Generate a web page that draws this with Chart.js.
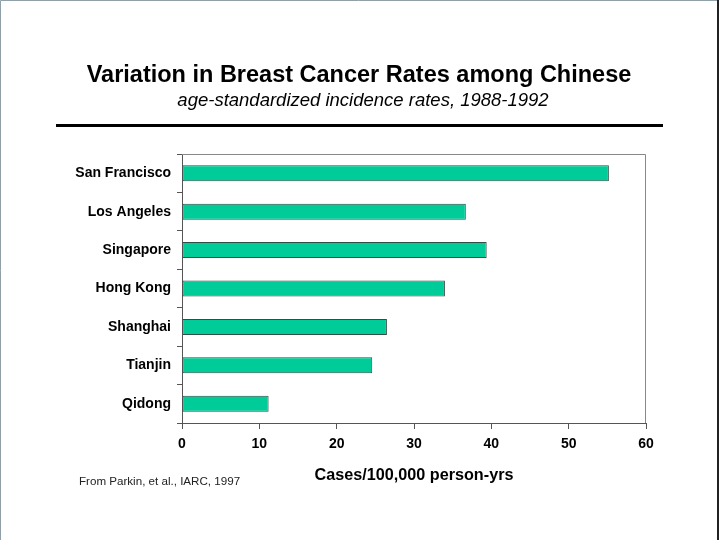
<!DOCTYPE html>
<html>
<head>
<meta charset="utf-8">
<script src="https://cdn.jsdelivr.net/npm/chart.js@4.4.0/dist/chart.umd.min.js"></script>
<style>
  html, body { margin: 0; padding: 0; background: #fff; }
  canvas { display: block; }
</style>
</head>
<body>
<canvas id="chart" width="720" height="540"></canvas>
<script>
// values
const cities = ['San Francisco', 'Los Angeles', 'Singapore', 'Hong Kong', 'Shanghai', 'Tianjin', 'Qidong'];
const rates = [55.2, 36.7, 39.4, 34.0, 26.5, 24.6, 11.2];
const xTicks = [0, 10, 20, 30, 40, 50, 60];

const titleText = 'Variation in Breast Cancer Rates among Chinese';
const subtitleText = 'age-standardized incidence rates, 1988-1992';
const footText = 'From Parkin, et al., IARC, 1997';
const axisTitle = 'Cases/100,000 person-yrs';

const FONT = '"Liberation Sans", Arial, sans-serif';

// draws the slide bits around the chart: headings, rule, footnote, frames
const slideDecor = {
  id: 'slideDecor',
  beforeDraw(chart) {
    const ctx = chart.ctx;
    ctx.save();
    ctx.fillStyle = '#fff';
    ctx.fillRect(0, 0, chart.width, chart.height);
    ctx.restore();
  },
  afterDraw(chart) {
    const ctx = chart.ctx;
    const a = chart.chartArea;
    ctx.save();
    // plot frame top and right
    ctx.strokeStyle = '#888';
    ctx.lineWidth = 1;
    ctx.beginPath();
    ctx.moveTo(a.left, a.top + 0.5);
    ctx.lineTo(a.right - 0.5, a.top + 0.5);
    ctx.lineTo(a.right - 0.5, a.bottom);
    ctx.stroke();

    ctx.fillStyle = '#000';
    ctx.textAlign = 'center';
    ctx.textBaseline = 'middle';
    ctx.font = 'bold 23.5px ' + FONT;
    ctx.fillText(titleText, 359, 76);
    ctx.font = 'italic 18.5px ' + FONT;
    ctx.fillText(subtitleText, 363, 101);

    // rule under the headings
    ctx.fillRect(56, 124, 607, 3);

    ctx.textAlign = 'left';
    ctx.font = '11.6px ' + FONT;
    ctx.fillStyle = '#222';
    ctx.fillText(footText, 79, 482);

    // page frame
    ctx.strokeStyle = '#8fa0a8';
    ctx.beginPath();
    ctx.moveTo(0.5, 540);
    ctx.lineTo(0.5, 0.5);
    ctx.lineTo(717, 0.5);
    ctx.stroke();
    ctx.strokeStyle = '#222';
    ctx.lineWidth = 2;
    ctx.beginPath();
    ctx.moveTo(718, 0);
    ctx.lineTo(718, 540);
    ctx.stroke();
    ctx.restore();
  }
};

new Chart(document.getElementById('chart'), {
  type: 'bar',
  data: {
    labels: cities,
    datasets: [{
      data: rates,
      backgroundColor: '#00cc99',
      borderColor: '#2f4f45',
      borderWidth: 1,
      borderSkipped: false,
      barPercentage: 0.8,
      categoryPercentage: 0.52
    }]
  },
  options: {
    indexAxis: 'y',
    responsive: false,
    animation: false,
    devicePixelRatio: 1,
    layout: { padding: { top: 154, right: 74, left: 0, bottom: 0 } },
    plugins: {
      legend: { display: false },
      tooltip: { enabled: false }
    },
    scales: {
      x: {
        min: 0,
        max: 60,
        afterBuildTicks(scale) {
          scale.ticks = xTicks.map(v => ({ value: v }));
        },
        afterFit(scale) { scale.height = 117; },
        grid: {
          drawOnChartArea: false,
          drawTicks: true,
          tickLength: 6,
          color: '#555'
        },
        border: { color: '#555', width: 1 },
        ticks: {
          color: '#000',
          padding: 7,
          font: { family: FONT, size: 14, weight: 'bold' }
        },
        title: {
          display: true,
          text: axisTitle,
          color: '#000',
          padding: { top: 0, bottom: 55 },
          font: { family: FONT, size: 16.2, weight: 'bold' }
        }
      },
      y: {
        afterFit(scale) { scale.width = 182; },
        grid: {
          drawOnChartArea: false,
          drawTicks: true,
          tickLength: 5,
          color: '#555'
        },
        border: { color: '#555', width: 1 },
        ticks: {
          color: '#000',
          padding: 6,
          font: { family: FONT, size: 14, weight: 'bold' }
        }
      }
    }
  },
  plugins: [slideDecor]
});
</script>
</body>
</html>
